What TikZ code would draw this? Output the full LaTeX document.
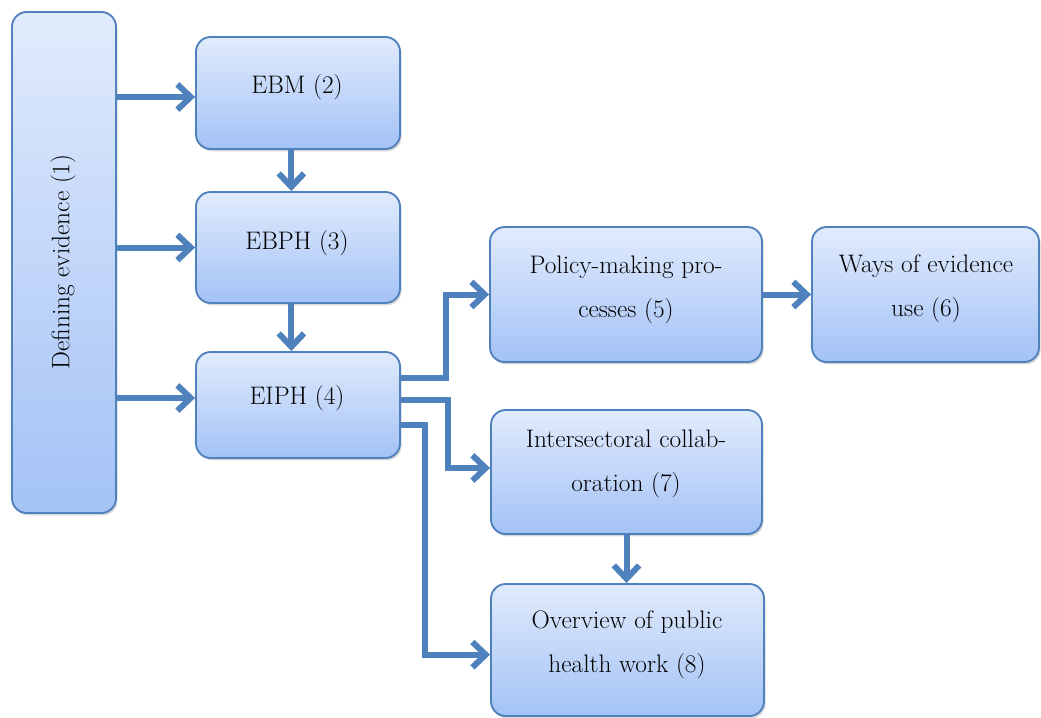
\documentclass[tikz,border=0pt]{standalone}
\usetikzlibrary{arrows.meta,shadows}
\definecolor{edgeblue}{HTML}{4F81BD}
\definecolor{boxtop}{HTML}{E1EBFC}
\definecolor{boxbot}{HTML}{A3C2F6}
\tikzset{
  panel/.style={draw=edgeblue, line width=1.4pt, rounded corners=11pt,
    top color=boxtop, bottom color=boxbot, inner sep=0pt,
    drop shadow={shadow xshift=1.2pt, shadow yshift=-1.8pt, opacity=0.25, fill=black!60}},
  label/.style={align=center, font=\fontsize{19}{33}\selectfont, inner sep=0pt},
  flow/.style={draw=edgeblue, line width=4.5pt,
    -{Straight Barb[length=10pt,width=19pt]}}
}
\begin{document}
\begin{tikzpicture}[x=0.75pt,y=-0.75pt]
\useasboundingbox (0,0) rectangle (1041,717);

% boxes (centres and sizes in px, 1px = 0.75pt)
\node[panel, minimum width=78pt,   minimum height=375.75pt] (def)    at (64,262.5) {};
\node[panel, minimum width=153pt,  minimum height=84pt]     (ebm)    at (298,93)   {};
\node[panel, minimum width=153pt,  minimum height=83.25pt]  (ebph)   at (298,247.5){};
\node[panel, minimum width=153pt,  minimum height=79.5pt]   (eiph)   at (298,405)  {};
\node[panel, minimum width=204pt,  minimum height=101.25pt] (policy) at (626,294.5){};
\node[panel, minimum width=170.25pt,minimum height=101.25pt](ways)   at (925.5,294.5){};
\node[panel, minimum width=203.25pt,minimum height=93pt]    (inter)  at (626.5,472){};
\node[panel, minimum width=204.75pt,minimum height=99pt]    (over)   at (627.5,650){};

% texts
\node[label] (defT)    at (63,262)  {\rotatebox{90}{Defining evidence (1)}};
\node[label] (ebmT)    at (297,87)  {EBM (2)};
\node[label] (ebphT)   at (297,243) {EBPH (3)};
\node[label] (eiphT)   at (297,398) {EIPH (4)};
\node[label] (policyT) at (626,290) {Policy-making pro-\\cesses (5)};
\node[label] (waysT)   at (926,289) {Ways of evidence\\use (6)};
\node[label] (interT)  at (626,464) {Intersectoral collab-\\oration (7)};
\node[label] (overT)   at (627,645) {Overview of public\\health work (8)};

% connectors
\draw[flow] ([yshift=-3pt]ebm.west -| def.east) -- ([yshift=-3pt]ebm.west);
\draw[flow] (ebph.west -| def.east) -- (ebph.west);
\draw[flow] (eiphT -| def.east) -- (eiphT -| eiph.west);
\draw[flow] ([xshift=-5pt]ebm.south) -- ([xshift=-5pt]ebph.north);
\draw[flow] ([xshift=-5pt]ebph.south) -- ([xshift=-5pt]eiph.north);
\draw[flow] ([yshift=20pt]eiph.east) -- ++(34pt,0) |- (policy.west);
\draw[flow] ([yshift=3.75pt]eiph.east) -- ++(35pt,0) |- ([yshift=3pt]inter.west);
\draw[flow] ([yshift=-15pt]eiph.east) -- ++(18pt,0) |- ([yshift=-3.5pt]over.west);
\draw[flow] (inter.south) -- (inter.south |- over.north);
\draw[flow] (policy.east) -- (ways.west);
\end{tikzpicture}
\end{document}
